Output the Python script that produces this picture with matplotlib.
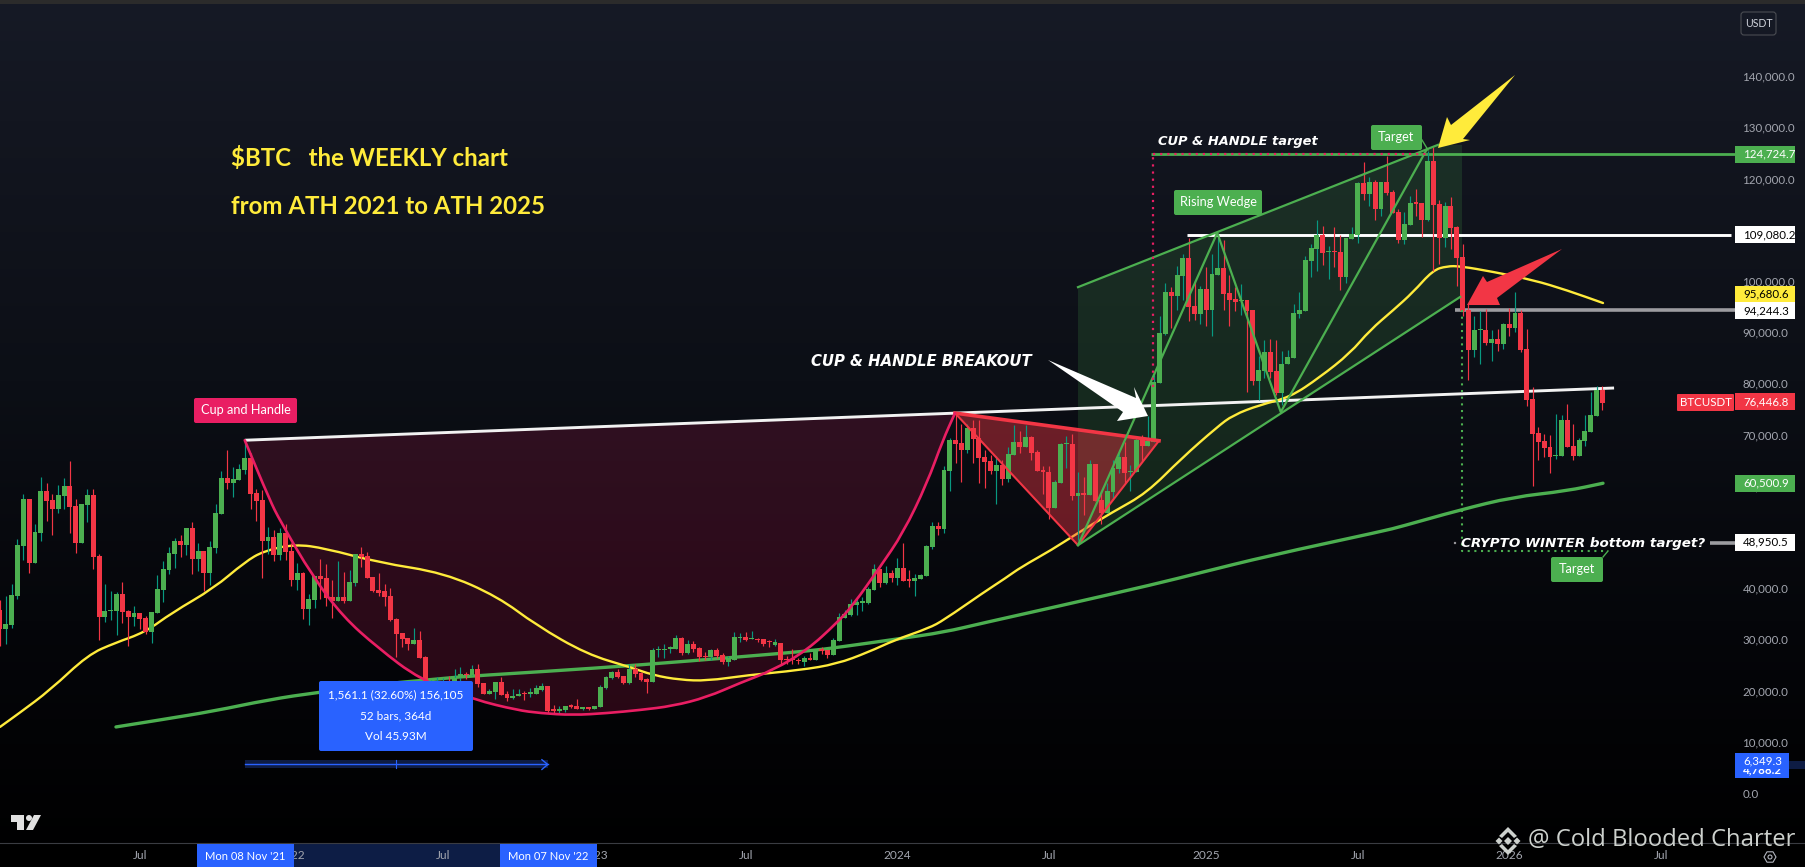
import numpy as np
import matplotlib
matplotlib.use("Agg")
import matplotlib.pyplot as plt
from matplotlib.patches import Rectangle, FancyBboxPatch, Polygon, Circle, PathPatch
from matplotlib.path import Path
from matplotlib.transforms import Affine2D

W, H = 1805, 867
PX_PER_WEEK = 5.827
PX_PER_K = 5.12
ZERO_Y = 793

# weekly candles in thousands of USDT, first bar is Jan 2021
opens = [
    35.7, 32.0, 32.8, 38.5, 48.2, 57.4, 44.9, 50.8, 59.0, 57.2,
    55.5, 58.0, 60.0, 56.0, 48.8, 56.2, 58.2, 46.3, 34.4, 35.5,
    35.5, 38.9, 35.5, 34.4, 35.1, 34.2, 31.4, 35.1, 39.6, 43.5,
    46.7, 49.2, 48.4, 51.8, 45.7, 47.3, 43.0, 47.9, 54.5, 61.5,
    60.5, 61.1, 63.1, 65.4, 58.6, 57.2, 49.2, 50.0, 46.5, 50.8,
    47.3, 41.6, 43.0, 35.9, 37.7, 42.4, 42.0, 38.3, 37.5, 38.3,
    37.5, 41.0, 46.7, 46.3, 42.2, 39.6, 39.4, 38.5, 34.0, 31.2,
    30.3, 29.1, 29.9, 26.6, 20.5, 21.0, 21.2, 21.4, 21.0, 22.4,
    23.1, 23.0, 24.2, 21.5, 19.3, 19.7, 21.7, 19.3, 18.6, 19.0,
    19.4, 19.3, 19.3, 20.1, 20.9, 16.2, 16.1, 16.2, 17.2, 17.0,
    16.5, 16.8, 16.4, 16.8, 20.5, 22.5, 23.6, 22.8, 21.5, 24.2,
    23.4, 22.3, 21.7, 27.9, 27.9, 28.2, 28.1, 30.3, 27.4, 29.1,
    28.3, 26.6, 26.6, 27.9, 27.0, 25.6, 26.0, 30.3, 30.5, 30.0,
    30.0, 30.0, 29.5, 29.0, 29.3, 26.0, 26.0, 26.0, 25.6, 26.4,
    26.0, 27.9, 27.9, 27.0, 29.7, 34.2, 34.75, 36.7, 37.2, 37.1,
    39.6, 43.7, 41.0, 42.9, 42.0, 43.9, 41.6, 41.4, 41.8, 42.4,
    48.0, 52.1, 51.5, 62.9, 68.9, 68.4, 67.0, 71.3, 69.3, 65.6,
    64.8, 62.9, 64.0, 61.3, 66.0, 68.5, 67.6, 69.5, 66.6, 63.1,
    62.7, 55.7, 60.5, 68.1, 68.2, 58.0, 58.4, 58.2, 64.2, 57.2,
    54.7, 58.8, 63.3, 65.6, 62.7, 62.7, 68.9, 67.8, 68.5, 80.1,
    89.6, 97.8, 97.0, 101.0, 104.5, 95.1, 93.5, 98.4, 94.3, 101.2,
    102.5, 97.6, 96.5, 96.0, 96.3, 94.3, 80.5, 82.4, 86.1, 82.4,
    78.1, 83.7, 85.0, 93.5, 94.1, 103.9, 106.2, 109.0, 105.6, 105.7,
    105.6, 100.8, 108.2, 109.0, 119.1, 117.0, 119.3, 114.0, 119.3, 117.4,
    113.5, 108.0, 110.9, 115.2, 115.2, 111.9, 123.4, 115.0, 108.4, 114.6,
    110.5, 104.7, 94.3, 86.5, 90.4, 90.4, 87.9, 88.7, 87.7, 91.6,
    90.8, 93.7, 86.7, 76.9, 70.3, 68.7, 67.6, 65.8, 65.8, 72.8,
    67.8, 65.8, 68.7, 70.5, 73.7, 78.7,
]
highs = [
    37.7, 38.5, 40.8, 49.6, 58.4, 57.4, 52.5, 61.8, 60.6, 58.4,
    60.2, 61.6, 64.8, 57.4, 56.4, 59.4, 59.4, 46.7, 40.8, 39.4,
    39.2, 41.2, 35.7, 36.5, 35.1, 34.6, 35.3, 42.6, 45.3, 48.0,
    49.8, 50.4, 51.8, 52.9, 48.8, 47.3, 49.2, 56.4, 62.9, 67.0,
    63.7, 64.2, 68.9, 66.5, 59.4, 59.2, 51.9, 51.4, 51.8, 52.5,
    48.8, 44.9, 43.2, 38.9, 42.4, 45.7, 44.7, 41.6, 45.3, 43.2,
    43.6, 46.7, 48.0, 47.1, 42.2, 42.9, 40.8, 40.0, 34.2, 31.2,
    30.3, 32.2, 31.6, 26.7, 22.0, 22.6, 22.4, 22.8, 24.2, 24.7,
    23.7, 25.0, 25.2, 21.5, 20.4, 21.7, 22.7, 19.9, 20.3, 20.3,
    20.0, 20.5, 21.1, 21.4, 20.9, 17.2, 16.9, 17.0, 17.4, 18.4,
    16.8, 16.8, 17.0, 21.1, 22.9, 23.8, 24.2, 22.9, 25.2, 25.2,
    23.6, 22.5, 28.3, 28.7, 29.1, 28.7, 30.9, 30.5, 29.9, 29.7,
    28.5, 27.5, 28.1, 28.3, 27.3, 26.8, 31.4, 31.3, 31.4, 31.6,
    30.3, 30.0, 29.9, 30.0, 29.3, 26.8, 28.1, 26.4, 26.8, 27.3,
    27.9, 28.5, 27.9, 30.3, 35.2, 35.7, 37.8, 37.8, 38.2, 40.2,
    44.7, 43.7, 44.3, 43.5, 45.9, 48.8, 43.5, 42.8, 42.8, 48.4,
    52.9, 52.9, 63.9, 69.3, 74.0, 72.1, 72.1, 72.8, 72.8, 67.0,
    66.0, 65.8, 65.0, 67.6, 71.9, 70.7, 71.9, 69.7, 67.0, 63.9,
    63.9, 61.1, 68.4, 69.7, 70.1, 62.7, 61.7, 65.0, 64.2, 59.0,
    60.5, 65.0, 67.0, 68.5, 64.0, 69.5, 69.9, 73.6, 81.6, 93.2,
    99.6, 98.9, 102.9, 105.3, 108.4, 100.0, 99.0, 102.7, 105.3, 109.2,
    108.0, 101.2, 98.9, 99.4, 96.3, 94.3, 85.3, 88.5, 88.7, 88.5,
    86.4, 86.5, 95.6, 97.8, 104.9, 107.2, 111.9, 110.7, 106.8, 110.5,
    109.0, 108.4, 110.6, 119.3, 123.2, 120.3, 119.7, 119.3, 124.5, 117.8,
    114.0, 113.5, 116.6, 117.9, 115.2, 125.4, 126.2, 115.8, 115.4, 116.4,
    110.7, 107.3, 95.6, 93.2, 94.1, 94.5, 90.4, 90.6, 91.8, 94.7,
    97.8, 94.3, 90.6, 79.3, 71.5, 70.1, 69.9, 74.0, 73.8, 76.0,
    72.1, 69.3, 73.8, 78.4, 79.5, 79.5,
]
lows = [
    28.8, 29.1, 32.3, 37.9, 45.5, 43.0, 44.9, 49.2, 53.1, 50.4,
    54.7, 55.5, 50.8, 46.9, 48.8, 52.9, 43.7, 29.9, 33.4, 33.8,
    30.9, 33.2, 28.7, 32.6, 32.0, 31.0, 29.3, 35.1, 37.3, 42.8,
    43.9, 46.1, 46.5, 42.8, 43.3, 39.4, 40.6, 46.9, 54.5, 59.4,
    57.8, 61.1, 62.3, 55.5, 53.1, 42.0, 46.7, 45.3, 45.5, 45.5,
    40.4, 39.6, 34.0, 32.8, 36.1, 37.9, 36.5, 34.2, 37.5, 37.1,
    37.5, 40.4, 44.1, 42.0, 39.3, 38.5, 36.5, 33.6, 26.6, 28.5,
    27.9, 29.1, 26.4, 20.0, 19.0, 20.0, 20.0, 20.2, 20.5, 21.4,
    22.3, 23.0, 20.8, 19.3, 19.3, 18.3, 19.1, 18.0, 18.3, 19.0,
    18.2, 18.7, 19.3, 20.0, 15.6, 15.4, 15.4, 15.8, 16.6, 16.4,
    16.2, 16.2, 16.4, 16.8, 20.3, 22.3, 22.5, 21.3, 21.3, 22.7,
    21.9, 19.5, 21.7, 26.6, 26.4, 27.3, 28.1, 27.0, 27.1, 27.5,
    25.8, 26.0, 25.9, 26.4, 25.2, 24.8, 26.0, 29.5, 29.7, 30.0,
    29.5, 28.7, 28.5, 28.7, 25.0, 25.2, 25.2, 25.2, 24.8, 26.0,
    26.0, 27.2, 26.4, 27.0, 29.7, 34.2, 34.6, 34.8, 35.5, 36.9,
    39.6, 40.2, 40.8, 41.2, 40.6, 41.4, 40.2, 38.5, 41.8, 42.4,
    47.7, 50.4, 50.8, 59.0, 64.4, 60.7, 66.5, 64.4, 60.5, 59.6,
    62.3, 56.4, 60.1, 60.7, 66.0, 66.5, 67.6, 65.0, 62.9, 58.4,
    53.5, 55.7, 60.5, 63.5, 57.2, 49.4, 54.3, 58.2, 57.0, 52.5,
    54.7, 57.4, 62.5, 60.5, 59.0, 62.7, 64.8, 67.8, 68.5, 80.1,
    89.4, 90.8, 94.3, 96.3, 92.2, 92.4, 91.6, 91.2, 89.2, 101.2,
    94.3, 91.2, 94.1, 93.3, 78.4, 79.7, 76.7, 81.0, 81.0, 77.7,
    75.8, 83.7, 85.0, 92.8, 94.1, 100.8, 102.0, 103.1, 100.4, 102.7,
    98.2, 99.6, 108.2, 107.5, 115.8, 114.6, 111.9, 112.7, 116.8, 113.3,
    107.4, 107.2, 110.9, 112.6, 108.6, 111.7, 101.9, 103.4, 106.6, 106.2,
    99.0, 93.2, 80.6, 85.1, 83.8, 87.5, 84.4, 86.3, 86.7, 89.2,
    90.0, 86.1, 75.6, 60.0, 65.0, 65.6, 62.5, 65.2, 65.8, 67.6,
    65.0, 65.8, 67.8, 70.5, 73.7, 74.8,
]
closes = [
    32.0, 33.0, 38.7, 48.4, 57.4, 44.9, 51.0, 59.0, 57.0, 55.5,
    58.2, 60.0, 55.9, 48.8, 56.4, 58.2, 46.1, 34.4, 35.5, 35.7,
    38.9, 35.3, 34.4, 35.1, 34.0, 31.4, 35.3, 39.8, 43.7, 46.9,
    49.2, 48.4, 51.8, 45.7, 47.3, 43.0, 48.0, 54.7, 61.5, 60.5,
    61.3, 63.3, 65.4, 58.4, 57.0, 49.2, 50.0, 46.5, 50.8, 47.1,
    41.6, 43.0, 35.9, 37.9, 42.4, 41.8, 38.1, 37.5, 38.3, 37.5,
    41.2, 46.7, 46.1, 42.0, 39.4, 39.0, 38.3, 33.8, 31.0, 30.1,
    29.1, 29.9, 26.4, 20.5, 21.0, 21.5, 21.6, 21.0, 22.5, 23.2,
    23.0, 24.2, 21.3, 19.3, 19.9, 21.7, 19.1, 18.6, 19.0, 19.3,
    19.3, 19.8, 20.5, 20.9, 16.0, 16.1, 16.5, 17.0, 16.8, 16.4,
    16.8, 16.4, 17.0, 20.7, 22.7, 23.6, 22.7, 21.5, 24.2, 23.2,
    22.1, 21.7, 27.9, 27.9, 28.2, 28.4, 30.3, 27.4, 29.1, 28.1,
    26.6, 26.5, 27.9, 26.8, 25.6, 26.4, 30.5, 30.4, 29.9, 30.0,
    29.9, 29.1, 29.4, 29.4, 26.0, 25.9, 25.9, 25.8, 26.4, 26.0,
    27.9, 27.8, 27.0, 29.9, 34.4, 34.95, 36.9, 37.3, 37.3, 39.8,
    43.7, 41.0, 42.9, 42.0, 43.9, 41.4, 41.5, 42.0, 42.6, 48.2,
    52.1, 51.5, 63.1, 68.9, 68.2, 67.0, 71.3, 69.1, 65.4, 64.6,
    62.9, 64.0, 61.3, 66.2, 68.5, 67.6, 69.5, 66.4, 62.9, 62.7,
    55.7, 60.7, 68.2, 68.2, 58.0, 58.6, 58.3, 64.2, 57.0, 54.7,
    59.0, 63.5, 65.6, 62.5, 62.9, 68.9, 67.8, 68.7, 80.3, 89.8,
    97.8, 97.0, 101.2, 104.5, 94.9, 93.5, 98.4, 94.3, 101.4, 102.5,
    97.4, 96.3, 95.9, 96.1, 94.1, 80.5, 82.6, 86.1, 82.2, 78.1,
    83.8, 85.1, 93.7, 94.3, 104.1, 106.4, 109.0, 105.5, 105.7, 105.6,
    100.8, 108.4, 109.2, 119.1, 117.0, 119.3, 114.0, 119.3, 117.2, 113.3,
    108.0, 111.1, 115.2, 115.1, 111.9, 123.4, 114.8, 108.4, 114.6, 110.3,
    104.5, 94.1, 86.5, 90.4, 90.4, 87.9, 88.7, 87.7, 91.6, 90.8,
    93.7, 86.5, 76.7, 70.1, 68.5, 67.4, 65.6, 65.9, 72.8, 67.6,
    65.8, 68.9, 70.7, 73.8, 78.7, 76.2,
]

# moving averages (week, price)
ma_yellow_w = [0, 3.3, 8.6, 15.1, 19.7, 24.9, 29.5, 36.7, 42, 45.3, 50.6, 55.8, 65, 76.2, 85.5, 92,
               100.7, 108.1, 112.1, 116.7, 121.3, 128.2, 137.3, 143.6, 149, 153.6, 159.4, 162, 168.7,
               172.6, 175.2, 180.5, 185, 191, 196.8, 202.8, 208.9, 211.6, 216.2, 221.4, 226.5, 231.7,
               235.1, 239.1, 242.5, 245.9, 248.3, 250.6, 256.2, 263.1, 268.9, 275.1]
ma_yellow_p = [12.9, 15.6, 20.1, 27.0, 29.3, 31.4, 35.2, 40.0, 45.1, 47.3, 48.6, 47.8, 45.0, 43.0, 38.3, 32.8,
               27.1, 24.6, 23.0, 22.1, 21.9, 23.0, 24.0, 25.2, 27.5, 29.9, 32.2, 33.8, 39.1,
               42.0, 44.1, 47.5, 50.8, 54.9, 58.6, 65.4, 71.5, 73.8, 75.8, 77.3, 81.2, 85.9,
               90.4, 94.3, 97.8, 102.1, 102.9, 102.9, 101.8, 100.2, 98.2, 95.7]
ma_green_w = [19.9, 27.6, 36.7, 46, 54.7, 73.3, 94.4, 109.8, 127, 138.5, 144.2, 154.1, 162, 168.7, 181.7,
              198.2, 205.9, 217.6, 237.5, 240.3, 250.6, 259.6, 268.9, 275.1]
ma_green_p = [12.9, 14.3, 16.0, 18.2, 19.7, 22.3, 23.8, 25.0, 26.6, 27.7, 28.5, 30.1, 31.4, 33.2, 36.5,
              40.8, 43.0, 46.3, 51.2, 52.0, 55.3, 57.8, 59.0, 60.5]

# cup curve
cup_w = [42, 46.3, 48, 53.7, 58.9, 64.7, 72.1, 81.5, 88.7, 92.7, 98.3, 104.2, 109.8, 115.5, 121.3, 127,
         132.7, 138.5, 143.6, 146.4, 151, 155, 159.1, 161.8, 163.9]
cup_p = [68.9, 57.2, 53.3, 42.2, 34.4, 28.5, 22.1, 18.2, 16.2, 15.6, 15.2, 15.6, 16.2, 17.0, 18.7, 21.5,
         24.0, 27.9, 33.2, 36.7, 44.1, 50.8, 60.5, 68.9, 74.2]

neck_w = [42, 277]
neck_p = [68.9, 79.1]
handle_w = [163.9, 198.9, 185]
handle_p = [74.2, 68.8, 48.4]
wedge_top_w = [185, 246.8]
wedge_top_p = [98.8, 126.6]
wedge_bot_w = [185, 250.6]
wedge_bot_p = [48.4, 96.9]
zigzag_w = [185, 208.9, 219.8, 244.9]
zigzag_p = [48.4, 109.4, 74.4, 125.8]
channel_w = [185, 246.8, 250.9, 250.9, 185]
channel_p = [98.8, 126.6, 126.6, 96.9, 48.4]

target_price = 124.7247
ath_2021_line = 109.0802
support_line = 94.2443
winter_price = 47.3

# price axis
price_ticks = [0, 10, 20, 30, 40, 50, 60, 70, 80, 90, 100, 110, 120, 130, 140]
tick_weeks = [24, 50, 76, 102, 128, 154, 180, 207, 233, 259, 285]
tick_labels = ["Jul", "2022", "Jul", "2023", "Jul", "2024", "Jul", "2025", "Jul", "2026", "Jul"]

UP = "#4CAF50"
DOWN = "#F23645"
WICK_UP = "#089981"
YELLOW = "#FFEB3B"
PINK = "#E91E63"
BLUE = "#2962FF"
SANS = ["Lato", "DejaVu Sans"]
TICK_SIZE = 8.3

fig = plt.figure(figsize=(W / 100, H / 100), dpi=100)
ax = fig.add_axes([0, 0, 1, 1])

# background gradient
stops = np.array([[0x16, 0x1a, 0x26], [0x13, 0x16, 0x20], [0x0c, 0x0f, 0x16], [0x05, 0x06, 0x0a], [0, 0, 0]])
rows = np.arange(H)
grad = np.stack([np.interp(rows, [0, 120, 380, 620, 867], stops[:, c]) for c in range(3)], axis=1)
ax.imshow(grad[:, None, :].astype(np.uint8), extent=[0, 1, 0, 1], transform=ax.transAxes, aspect="auto", zorder=0)

ax.set_xlim(0, W / PX_PER_WEEK)
ax.set_ylim((ZERO_Y - H) / PX_PER_K, ZERO_Y / PX_PER_K)
ax.set_axisbelow(True)
for s in ax.spines.values():
    s.set_visible(False)
ax.yaxis.tick_right()
ax.set_yticks(price_ticks)
ax.set_yticklabels([f"{v * 1000:,.1f}" for v in price_ticks], family=SANS, fontsize=TICK_SIZE, color="#a3a6af")
ax.set_xticks(tick_weeks)
ax.set_xticklabels(tick_labels, family=SANS, fontsize=8.6, color="#a3a6af")
ax.tick_params(axis="y", length=0, pad=-45)
ax.tick_params(axis="x", length=0, pad=-12.5)

# pixel space for the drawn annotations, y going down like the screenshot
px = Affine2D().scale(1, -1).translate(0, H)


def smooth_line(xs, ys, color, lw, z):
    # quadratic segments through the midpoints, so the read points do not show as corners
    pts = np.column_stack([xs, ys])
    mids = (pts[:-1] + pts[1:]) / 2
    verts = [pts[0], mids[0]]
    codes = [Path.MOVETO, Path.LINETO]
    for ctrl, end in zip(pts[1:-1], mids[1:]):
        verts += [ctrl, end]
        codes += [Path.CURVE3, Path.CURVE3]
    verts.append(pts[-1])
    codes.append(Path.LINETO)
    ax.add_patch(PathPatch(Path(verts, codes), fc="none", ec=color, lw=lw, zorder=z, capstyle="round"))


# cup and handle fills
ax.fill(cup_w, cup_p, color=PINK, alpha=0.17, lw=0, zorder=1)
ax.fill(channel_w, channel_p, color=UP, alpha=0.17, lw=0, zorder=1)
ax.fill(handle_w, handle_p, color=DOWN, alpha=0.42, lw=0, zorder=2.9)

# lines that sit behind the candles
ax.plot(neck_w, neck_p, color="#f2f2f2", lw=2.1, zorder=2.5, solid_capstyle="butt")
ax.plot([203.7, 297], [ath_2021_line] * 2, color="white", lw=2.1, zorder=2.5, solid_capstyle="butt")
ax.plot([249.7, 297.7], [support_line] * 2, color="#9c9ca0", lw=2.6, zorder=2.5, solid_capstyle="butt")
ax.plot([197.6, 297.7], [target_price] * 2, color=UP, lw=2.0, zorder=2.5, solid_capstyle="butt")
smooth_line(ma_green_w, ma_green_p, UP, 2.4, 2.7)
smooth_line(ma_yellow_w, ma_yellow_p, YELLOW, 1.7, 2.8)

# candles
weeks = np.arange(len(closes))
o = np.array(opens)
c = np.array(closes)
is_up = c >= o
ax.vlines(weeks, lows, highs, colors=[WICK_UP if u else DOWN for u in is_up], lw=0.85, zorder=3)
body_top = np.maximum(o, c)
body_bot = np.minimum(o, c)
ax.bar(weeks, np.maximum(body_top - body_bot, 0.25), bottom=body_bot, width=0.84,
       color=[UP if u else DOWN for u in is_up], lw=0, zorder=3.1)

# handle triangle and wedge lines over the candles
ax.plot(handle_w[:2], handle_p[:2], color=DOWN, lw=2.6, zorder=3.4)
ax.plot(handle_w[1:] + handle_w[:1], handle_p[1:] + handle_p[:1], color=DOWN, lw=1.5, zorder=3.4)
smooth_line(cup_w, cup_p, PINK, 1.9, 3.4)
ax.plot(wedge_top_w, wedge_top_p, color=UP, lw=1.6, zorder=3.5)
ax.plot(wedge_bot_w, wedge_bot_p, color=UP, lw=1.6, zorder=3.5)
ax.plot(zigzag_w, zigzag_p, color=UP, lw=1.6, zorder=3.5)

# dotted target guides
ax.plot([197.8, 197.8], [79.3, target_price], color=PINK, lw=1.6, ls=(0, (1, 2.2)), zorder=3.6)
ax.plot([197.8, 245], [target_price] * 2, color=PINK, lw=1.6, ls=(0, (1, 2.2)), zorder=3.6)
ax.plot([250.9, 250.9, 276], [support_line, winter_price, winter_price], color=UP, lw=1.5, ls=(0, (1, 2.2)), zorder=3.6)

# measure tool
ax.fill_between([42, 94], 4.788, 6.349, color="#0e1c44", lw=0, zorder=2)
ax.plot([42, 94], [5.57, 5.57], color=BLUE, lw=1.0, zorder=2.1)
ax.plot([93, 94, 93], [6.5, 5.57, 4.6], color=BLUE, lw=1.0, zorder=2.1)
ax.plot([68, 68], [4.788, 6.349], color=BLUE, lw=0.8, zorder=2.1)


def y_of(value):
    return H - ax.transData.transform((0, value))[1]


def box(x0, y0, x1, y1, color, z=8, round_px=2):
    p = FancyBboxPatch((x0, y0), x1 - x0, y1 - y0, boxstyle=f"round,pad=0,rounding_size={round_px}",
                       fc=color, ec="none", transform=px, zorder=z, clip_on=False)
    ax.add_patch(p)


def label(x, y, s, size=8.8, color="white", ha="center", z=9, **kw):
    kw.setdefault("family", SANS)
    ax.text(x, y, s, transform=px, fontsize=size, color=color, ha=ha, va="center", zorder=z, **kw)


def poly(points, color, z=6):
    ax.add_patch(Polygon(points, closed=True, fc=color, ec="none", transform=px, zorder=z))


# big hand drawn arrows
poly([(1048, 360), (1136, 398), (1134, 387), (1148, 416), (1117, 421), (1123, 412)], "white")
poly([(1515, 75), (1451, 125), (1447, 117), (1438, 148), (1470, 140), (1463, 139)], YELLOW)
poly([(1562, 249), (1487, 282), (1483, 276), (1467, 305), (1500, 305), (1497, 298)], DOWN)

# drawn labels
box(194, 398, 297, 423, PINK)
label(245.5, 410, "Cup and Handle", size=9.2)
box(1174, 190, 1262, 215, UP)
label(1218, 202, "Rising Wedge", size=9.2)
box(1371, 125, 1422, 150, UP)
label(1396, 137, "Target", size=9.2)
ax.plot([1422, 1428], [140, 150], color=UP, lw=1, transform=px, zorder=6)
box(1551, 557, 1603, 582, UP)
label(1577, 569, "Target", size=9.2)
ax.plot([1603, 1608], [557, 551], color=UP, lw=1, transform=px, zorder=6)

box(319, 681, 473, 751, BLUE)
label(396, 695, "1,561.1 (32.60%) 156,105", size=8.5)
label(396, 716, "52 bars, 364d", size=8.5)
label(396, 736, "Vol 45.93M", size=8.5)

label(231, 158, "$BTC   the WEEKLY chart", size=17.3, color=YELLOW, ha="left", fontweight="bold")
label(231, 206, "from ATH 2021 to ATH 2025", size=17.3, color=YELLOW, ha="left", fontweight="bold")

label(1158, 142, "CUP & HANDLE target", size=9.4, ha="left", family="DejaVu Sans", fontweight="bold", style="italic")
label(811, 361, "CUP & HANDLE BREAKOUT", size=10.7, ha="left", family="DejaVu Sans", fontweight="bold", style="italic")
label(1461, 543, "CRYPTO WINTER bottom target?", size=9.7, ha="left", family="DejaVu Sans", fontweight="bold", style="italic")
ax.plot([1710, 1735], [543, 543], color="#9c9ca0", lw=2.6, transform=px, zorder=6, solid_capstyle="butt")
ax.add_patch(Circle((1455, 543), 1.2, fc="#9c9ca0", ec="none", transform=px, zorder=6))

# time axis
ax.plot([0, W], [843, 843], color="#3a3c42", lw=0.8, transform=px, zorder=7)
ax.add_patch(Rectangle((245, 844), 304, 23, fc="#0d1d45", ec="none", transform=px, zorder=0.4))
for left, text in [(197, "Mon 08 Nov '21"), (500, "Mon 07 Nov '22")]:
    ax.add_patch(Rectangle((left, 844), 97, 23, fc=BLUE, ec="none", transform=px, zorder=8))
    label(left + 48.5, 856, text, size=8.0)

# price tags
tags = [
    (target_price, 0, UP, "white"),
    (ath_2021_line, 0, "white", "black"),
    (95.6806, -9, YELLOW, "black"),
    (support_line, 0, "white", "black"),
    (76.4468, 0, DOWN, "white"),
    (60.5009, 0, UP, "white"),
    (48.9505, 0, "white", "black"),
]
for value, dy, bg, fg in tags:
    y = y_of(value) + dy
    ax.add_patch(Rectangle((1735, y - 8.5), 60, 17, fc=bg, ec="none", transform=px, zorder=8))
    label(1743, y, f"{value * 1000:,.1f}", size=TICK_SIZE, color=fg, ha="left")
box(1677, 394, 1734, 411, DOWN, round_px=1)
label(1705.5, 402.5, "BTCUSDT", size=8.3)

ax.add_patch(Rectangle((1735, 753), 54, 25, fc=BLUE, ec="none", transform=px, zorder=8))
label(1743, 770, "4,788.2", size=TICK_SIZE, ha="left", fontweight="bold")
ax.add_patch(Rectangle((1735, 753), 54, 15.5, fc=BLUE, ec="none", transform=px, zorder=9.5))
label(1743, 761, "6,349.3", size=TICK_SIZE, ha="left", z=10)
ax.add_patch(Rectangle((1789, 761), 16, 8, fc="#0e1c44", ec="none", transform=px, zorder=8))

# top bar and currency button
ax.add_patch(Rectangle((0, 0), W, 4, fc="#2b2b2b", ec="none", transform=px, zorder=9))
ax.add_patch(FancyBboxPatch((1741, 12), 35, 23, boxstyle="round,pad=0,rounding_size=3", fc="none", ec="#4a4c52",
                            lw=0.8, transform=px, zorder=9))
label(1758.5, 23.5, "USDT", size=7.6, color="#d1d4dc")

# tradingview mark
poly([(11, 815), (24, 815), (24, 830), (17, 830), (17, 822), (11, 822)], "#e0e0e0", z=9)
ax.add_patch(Circle((29, 818), 3, fc="#e0e0e0", ec="none", transform=px, zorder=9))
poly([(34, 815), (41, 815), (33, 830), (26, 830)], "#e0e0e0", z=9)

# watermark
wm = "#cdd1cd"
for cx, cy, r in [(1499, 841, 3.5), (1517, 841, 3.5), (1508, 841, 4)]:
    poly([(cx, cy - r), (cx + r, cy), (cx, cy + r), (cx - r, cy)], wm, z=9)
poly([(1508, 827), (1517, 836), (1514, 838), (1508, 832), (1502, 838), (1499, 836)], wm, z=9)
poly([(1508, 855), (1517, 846), (1514, 844), (1508, 850), (1502, 844), (1499, 846)], wm, z=9)
label(1528, 840, "@ Cold Blooded Charter", size=17.2, color=wm, ha="left", family=["Open Sans", "DejaVu Sans"], z=9)

# settings gear
hex_r = 6
hex_pts = [(1770 + hex_r * np.cos(a), 857 + hex_r * np.sin(a)) for a in np.deg2rad(np.arange(0, 360, 60))]
ax.add_patch(Polygon(hex_pts, closed=True, fc="none", ec="#b2b5be", lw=0.8, transform=px, zorder=9))
ax.add_patch(Circle((1770, 857), 2, fc="none", ec="#b2b5be", lw=0.8, transform=px, zorder=9))

fig.savefig("out.png", dpi=100, facecolor="black")
